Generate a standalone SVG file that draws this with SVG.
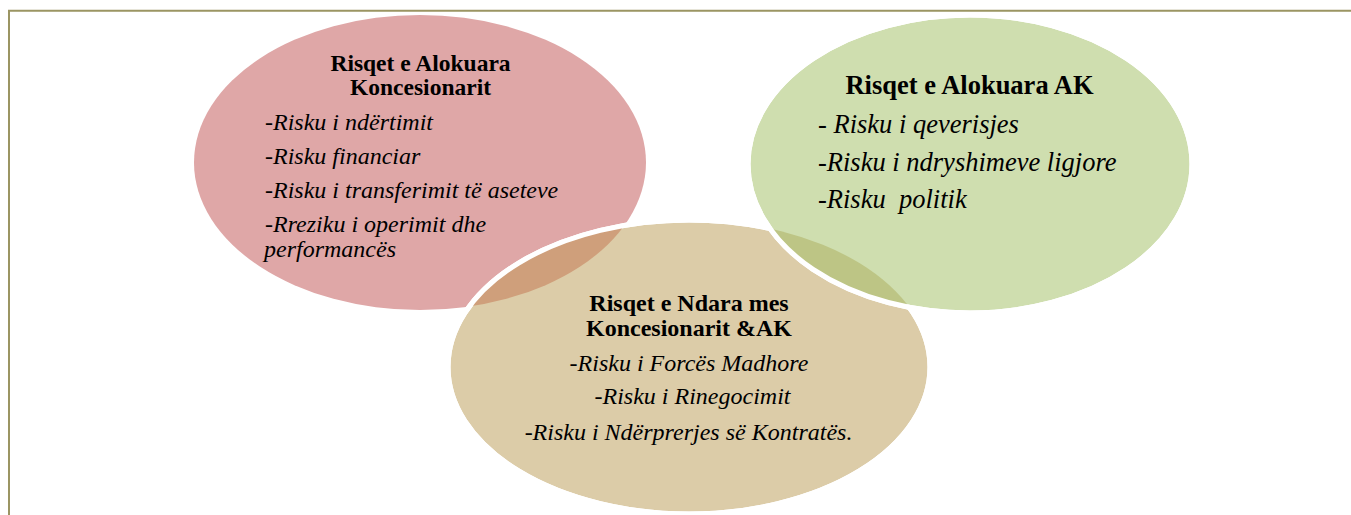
<svg xmlns="http://www.w3.org/2000/svg" width="1351" height="515" viewBox="0 0 1351 515">
<defs>
<style>
.title{font-family:"Liberation Serif","Times New Roman",serif;font-weight:bold;fill:#000}
.item{font-family:"Liberation Serif","Times New Roman",serif;font-style:italic;fill:#000}
.edge{fill:none;stroke:#fff;stroke-width:5}
</style>
<clipPath id="clipTan"><ellipse cx="689" cy="367" rx="241" ry="147"/></clipPath>
<clipPath id="clipGreen"><ellipse cx="970" cy="164" rx="222" ry="149"/></clipPath>
</defs>
<rect x="0" y="0" width="1351" height="515" fill="#fff"/>
<path d="M9 530 V10.8 H1360" fill="none" stroke="#9b9563" stroke-width="2"/>

<g id="node-koncesionari">
<ellipse cx="420" cy="162.5" rx="226" ry="147.5" fill="#dfa7a7"/>
</g>
<g id="node-ndara">
<ellipse cx="689" cy="367" rx="241" ry="147" fill="#dccca8" stroke="#fff" stroke-width="5"/>
<ellipse cx="420" cy="162.5" rx="226" ry="147.5" fill="#cf9f7b" clip-path="url(#clipTan)"/>
<ellipse class="edge" cx="689" cy="367" rx="241" ry="147"/>
</g>
<g id="node-ak">
<ellipse cx="970" cy="164" rx="222" ry="149" fill="#cfdeaf" stroke="#fff" stroke-width="5"/>
<ellipse cx="689" cy="367" rx="241" ry="147" fill="#bdc585" clip-path="url(#clipGreen)"/>
<ellipse class="edge" cx="970" cy="164" rx="222" ry="149"/>
</g>

<g id="text-koncesionari">
<text class="title" font-size="23.5" text-anchor="middle" x="420.5" y="71">Risqet e Alokuara</text>
<text class="title" font-size="23.5" text-anchor="middle" x="420.5" y="95">Koncesionarit</text>
<text class="item" font-size="24" x="265" y="129.5">-Risku i ndërtimit</text>
<text class="item" font-size="24" x="265" y="164">-Risku financiar</text>
<text class="item" font-size="24" x="265" y="198">-Risku i transferimit të aseteve</text>
<text class="item" font-size="24" x="265" y="232">-Rreziku i operimit dhe</text>
<text class="item" font-size="24" x="264" y="256.5">performancës</text>
</g>
<g id="text-ak">
<text class="title" font-size="26.5" text-anchor="middle" x="969.5" y="94">Risqet e Alokuara AK</text>
<text class="item" font-size="26.5" x="818" y="133">- Risku i qeverisjes</text>
<text class="item" font-size="26.5" x="818" y="171">-Risku i ndryshimeve ligjore</text>
<text class="item" font-size="26.5" x="818" y="208" xml:space="preserve">-Risku  politik</text>
</g>
<g id="text-ndara">
<text class="title" font-size="24" text-anchor="middle" x="689" y="310.5">Risqet e Ndara mes</text>
<text class="title" font-size="24" text-anchor="middle" x="689" y="335.5">Koncesionarit &amp;AK</text>
<text class="item" font-size="24" text-anchor="middle" x="689" y="371">-Risku i Forcës Madhore</text>
<text class="item" font-size="24" text-anchor="middle" x="692.5" y="404">-Risku i Rinegocimit</text>
<text class="item" font-size="24" text-anchor="middle" x="688.5" y="440">-Risku i Ndërprerjes së Kontratës.</text>
</g>
<g id="connectors"/>
</svg>
